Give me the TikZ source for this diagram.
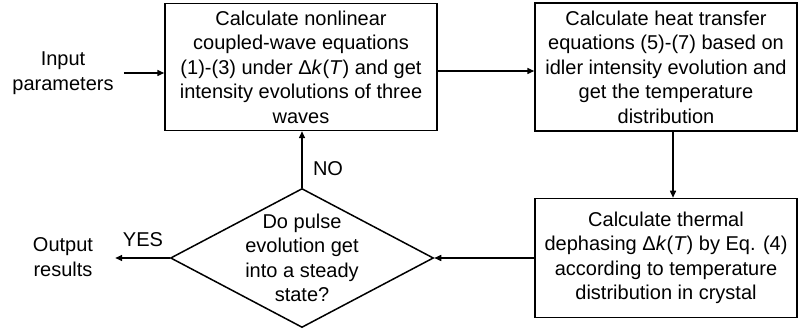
\documentclass[tikz,border=0pt]{standalone}
\usepackage{fontspec}
\setmainfont{Liberation Sans}
\usetikzlibrary{shapes.geometric, arrows.meta}

\begin{document}
\begin{tikzpicture}[
    x=1pt, y=1pt,
    font=\fontsize{20pt}{24.5pt}\selectfont,
    process/.style={draw, line width=1.5pt, align=center, inner sep=0pt},
    decision/.style={draw, diamond, line width=1.5pt, align=center, inner sep=-6pt, aspect=1.9, minimum width=263pt, minimum height=139pt},
    label_text/.style={align=center, inner sep=0pt},
    flow/.style={draw, line width=1.5pt, -{Triangle[length=7pt, width=6pt]}}
]
    \useasboundingbox (0,0) rectangle (799,331);

    % Define coordinates
    \def\topY{264}
    \def\botY{73}

    % Process boxes
    \node[process, minimum width=272pt, minimum height=127pt] (coupled) at (301, \topY)
        {Calculate nonlinear\\coupled-wave equations\\(1)-(3) under Δ\textit{k}(\textit{T}) and get\\intensity evolutions of three\\waves};
    \node[process, minimum width=262pt, minimum height=128pt] (heat) at (666, \topY)
        {Calculate heat transfer\\equations (5)-(7) based on\\idler intensity evolution and\\get the temperature\\distribution};
    \node[process, minimum width=262pt, minimum height=119pt] (thermal) at (666, \botY)
        {Calculate thermal\\dephasing Δ\textit{k}(\textit{T}) by Eq. (4)\\according to temperature\\distribution in crystal};

    % Decision
    \node[decision] (check) at (302, \botY)
        {Do pulse\\evolution get\\into a steady\\state?};

    % Labels
    \node[label_text] (input) at (63, 258) {Input\\parameters};
    \node[label_text] (output) at (63, 74) {Output\\results};
    \node[label_text] (yes) at (143, 91) {YES};
    \node[label_text] (no) at (328, 162) {NO};

    % Connectors
    \draw[flow] ([xshift=10pt]input.east) -- (input.east -| coupled.west);
    \draw[flow] ([yshift=-4pt]coupled.east) -- ([yshift=-4pt]coupled.east -| heat.west);
    \draw[flow] ([xshift=7pt]heat.south) -- ([xshift=7pt]heat.south |- thermal.north);
    \draw[flow] (thermal.west) -- (check.east);
    \draw[flow] (check.north) -- (check.north |- coupled.south);
    \draw[flow] (check.west) -- ([xshift=22pt]output.east |- check.west);

\end{tikzpicture}
\end{document}
